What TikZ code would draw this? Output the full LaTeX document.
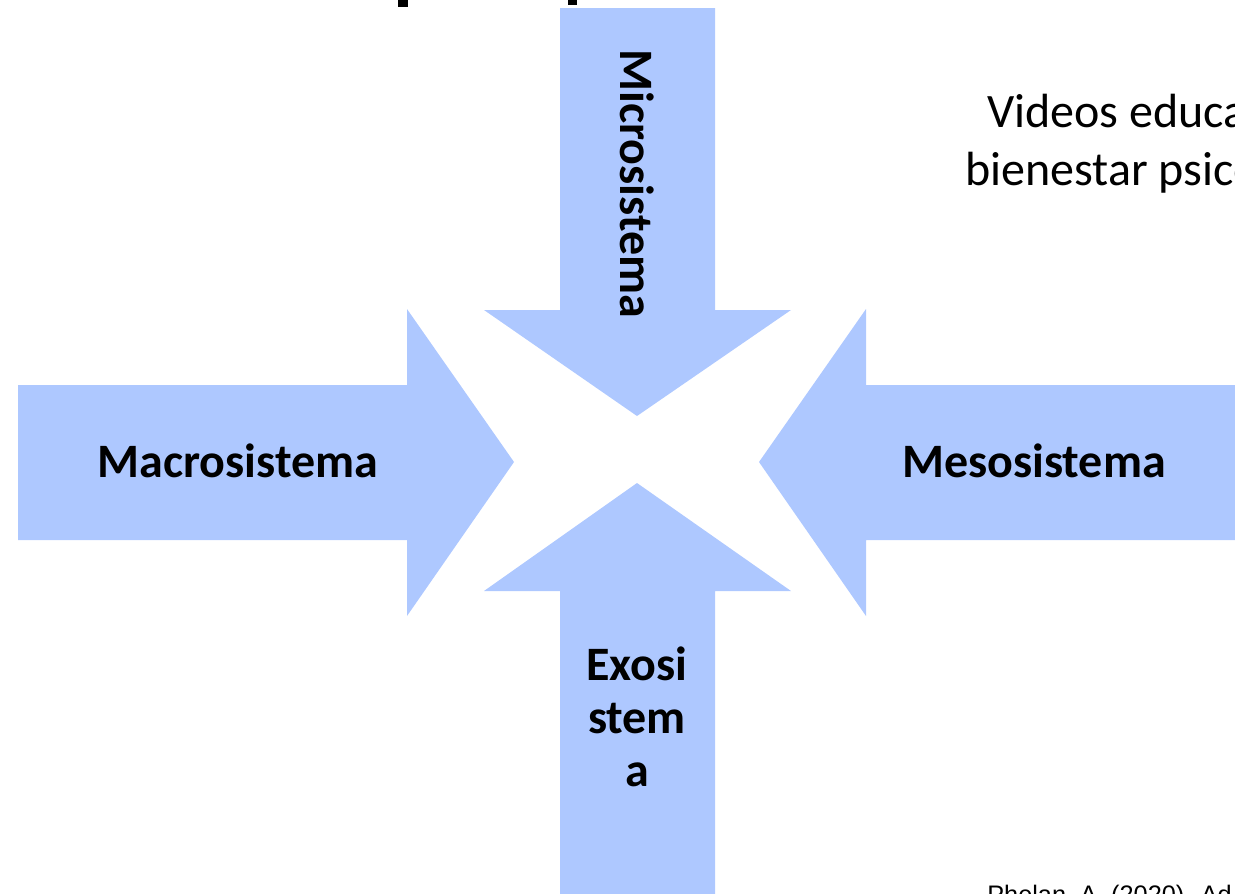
\documentclass[tikz,border=0pt]{standalone}
\usepackage{fontspec}
\setmainfont{Carlito}
\newfontfamily\citefont{Liberation Sans}
\usetikzlibrary{positioning}
\definecolor{sysblue}{RGB}{174,200,255}
\tikzset{
  sysarrow/.style={fill=sysblue,draw=none},
  syslabel/.style={font=\fontsize{36}{39.5}\selectfont\bfseries,text=black,inner sep=0pt},
  sidetext/.style={font=\fontsize{36}{44}\selectfont,anchor=base west,inner sep=0pt}
}

\begin{document}
\begin{tikzpicture}[x=0.75pt,y=-0.75pt]
  \useasboundingbox (0,0) rectangle (1235,893);
  \clip (0,0) rectangle (1235,893);

  % bits of the title cut off at the top
  \fill (398,0) rectangle (408,7);
  \fill (568,0) rectangle (577,5);

  % the four arrows
  \fill[sysarrow] (560,8) -- (715,8) -- (715,310) -- (791,310) -- (637,416)
    -- (484,310) -- (560,310) -- cycle;
  \fill[sysarrow] (560,900) -- (715,900) -- (715,591) -- (791,591) -- (637,483)
    -- (484,591) -- (560,591) -- cycle;
  \fill[sysarrow] (18,385) -- (407,385) -- (407,309) -- (514,462) -- (407,616)
    -- (407,540) -- (18,540) -- cycle;
  \fill[sysarrow] (1240,385) -- (866,385) -- (866,309) -- (759,462) -- (866,616)
    -- (866,540) -- (1240,540) -- cycle;

  % labels
  \node[syslabel,rotate=-90,anchor=base] (micro) at (620,184) {Microsistema};
  \node[syslabel,anchor=base] (macro) at (238,477) {Macrosistema};
  \node[syslabel,anchor=base] (meso) at (1034,477) {Mesosistema};
  \node[syslabel,align=center,anchor=north] (exo) at (637,647) {Exosi\\stem\\a};

  % text on the right
  \node[sidetext] (videos) at (987,127) {Videos educativos};
  \node[sidetext] (bienestar) at (965,185) {bienestar psicológico};
  \node[font=\citefont\fontsize{19}{22}\selectfont,anchor=base west,inner sep=0pt]
    (cite) at (987,903) {Phelan, A. (2020). Ad};
\end{tikzpicture}
\end{document}
